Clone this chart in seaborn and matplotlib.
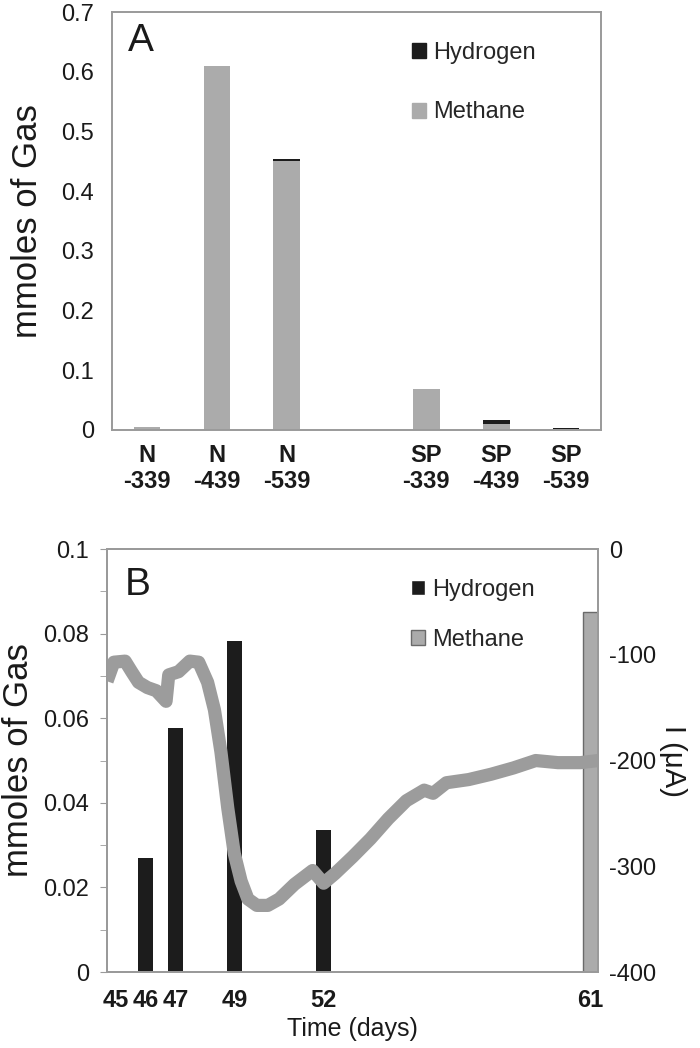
import pandas as pd
import matplotlib
matplotlib.use("Agg")
import matplotlib.pyplot as plt
import seaborn as sns
from matplotlib.patches import Patch
from matplotlib.ticker import FixedLocator

# ---- panel A: gas totals per condition ----
samples = ["N\n-339", "N\n-439", "N\n-539", "SP\n-339", "SP\n-439", "SP\n-539"]
methane_a = [0.005, 0.610, 0.450, 0.068, 0.010, 0.001]
hydrogen_a = [0.0, 0.0, 0.004, 0.0, 0.006, 0.002]
slot_order = samples[:3] + [" "] + samples[3:]

# ---- panel B: time course ----
h2_days = [46, 47, 49, 52]
h2_mmol = [0.027, 0.0577, 0.0783, 0.0335]
ch4_days = [61]
ch4_mmol = [0.085]
day_ticks = [45, 46, 47, 49, 52, 61]

cur_days = [44.70, 44.93, 45.31, 45.53, 45.76, 46.06, 46.36, 46.69, 46.78, 47.11,
            47.49, 47.79, 48.09, 48.32, 48.54, 48.77, 48.99, 49.22, 49.45, 49.75,
            50.12, 50.50, 51.02, 51.63, 52.00, 52.38, 52.98, 53.58, 54.18, 54.79,
            55.39, 55.69, 56.14, 56.89, 57.64, 58.40, 59.15, 59.90, 60.66, 61.25]
cur_uA = [-125, -107, -106, -116, -126, -131, -134, -144, -119, -116,
          -106, -107, -126, -152, -192, -245, -288, -314, -331, -337,
          -337, -331, -317, -304, -316, -307, -291, -274, -255, -238,
          -228, -231, -221, -218, -213, -207, -200, -202, -202, -200]

dfa = pd.DataFrame({"sample": samples, "methane": methane_a, "hydrogen": hydrogen_a})
dfa["total"] = dfa["methane"] + dfa["hydrogen"]

sns.set_style("white")
plt.rcParams["font.family"] = ["Liberation Sans", "DejaVu Sans"]
plt.rcParams["axes.unicode_minus"] = False

GRAY = "#ababab"
BLACK = "#1c1c1c"
FRAME = "#9a9a9a"
TXT = "#1a1a1a"

fig = plt.figure(figsize=(7, 10.48), dpi=100)
axA = fig.add_axes([0.160, 0.5897, 0.6986, 0.3988])
axB = fig.add_axes([0.1529, 0.0725, 0.7014, 0.4036])

# stacked bars: total in black, methane over it in gray
sns.barplot(data=dfa, x="sample", y="total", order=slot_order, color=BLACK,
            width=0.38, linewidth=0, saturation=1, ax=axA)
sns.barplot(data=dfa, x="sample", y="methane", order=slot_order, color=GRAY,
            width=0.38, linewidth=0, saturation=1, ax=axA)
axA.set_ylim(0, 0.7)
axA.set_xlim(-0.5, 6.5)
axA.set_yticks([0, 0.1, 0.2, 0.3, 0.4, 0.5, 0.6, 0.7])
axA.set_yticklabels(["0", "0.1", "0.2", "0.3", "0.4", "0.5", "0.6", "0.7"])
axA.yaxis.set_minor_locator(FixedLocator([0.05, 0.15, 0.25, 0.35, 0.45, 0.55, 0.65]))
axA.set_xticks(range(7))
axA.set_xticklabels(slot_order, fontweight="bold", fontsize=17, linespacing=1.15)
axA.xaxis.set_minor_locator(FixedLocator([0.5, 1.5, 2.5, 3.5, 4.5, 5.5]))
axA.tick_params(axis="x", which="major", length=0, pad=10, colors=TXT)
axA.tick_params(axis="x", which="minor", length=4, color=FRAME, direction="out")
axA.tick_params(axis="y", which="both", length=5, color=FRAME, direction="out",
                labelsize=17, labelcolor=TXT, pad=8)
axA.set_xlabel("")
axA.set_ylabel("mmoles of Gas", fontsize=25, color=TXT, labelpad=12)
axA.text(0.06, 0.93, "A", transform=axA.transAxes, fontsize=28, ha="center",
         va="center", color=TXT)
axA.legend(handles=[Patch(color=BLACK, label="Hydrogen"), Patch(color=GRAY, label="Methane")],
           loc="upper left", bbox_to_anchor=(0.57, 0.98), frameon=False, fontsize=17,
           handlelength=0.6, handleheight=0.6, handletextpad=0.3, labelspacing=1.6)

# panel B bars on left axis
sns.barplot(x=h2_days, y=h2_mmol, native_scale=True, color=BLACK, width=0.5,
            linewidth=0, saturation=1, ax=axB)
sns.barplot(x=ch4_days, y=ch4_mmol, native_scale=True, color=GRAY, width=0.5,
            edgecolor="#6a6a6a", linewidth=1.0, saturation=1, ax=axB)
axB.set_xlim(44.7, 61.25)
axB.set_ylim(0, 0.1)
axB.set_yticks([0, 0.02, 0.04, 0.06, 0.08, 0.1])
axB.set_yticklabels(["0", "0.02", "0.04", "0.06", "0.08", "0.1"])
axB.yaxis.set_minor_locator(FixedLocator([0.01, 0.03, 0.05, 0.07, 0.09]))
axB.set_xticks(list(range(45, 62)))
axB.set_xticklabels([str(d) if d in day_ticks else "" for d in range(45, 62)],
                    fontweight="bold", fontsize=17)
axB.tick_params(axis="x", length=4, color=FRAME, direction="out", pad=8, labelcolor=TXT)
axB.tick_params(axis="y", which="both", length=5, color=FRAME, direction="out",
                labelsize=17, labelcolor=TXT, pad=8)
axB.set_xlabel("Time (days)", fontsize=18, color=TXT, labelpad=4)
axB.set_ylabel("mmoles of Gas", fontsize=25, color=TXT, labelpad=6)
axB.text(0.063, 0.915, "B", transform=axB.transAxes, fontsize=28, ha="center",
         va="center", color=TXT)
axB.legend(handles=[Patch(facecolor=BLACK, label="Hydrogen"),
                    Patch(facecolor=GRAY, edgecolor="#6a6a6a", label="Methane")],
           loc="upper left", bbox_to_anchor=(0.575, 0.98), frameon=False, fontsize=17,
           handlelength=0.6, handleheight=0.6, handletextpad=0.3, labelspacing=1.2)

# current trace on secondary axis
axC = axB.twinx()
sns.lineplot(x=cur_days, y=cur_uA, color="#9c9c9c", linewidth=9.5, ax=axC,
             solid_capstyle="butt")
axC.set_ylim(-400, 0)
axC.set_yticks([0, -100, -200, -300, -400])
axC.tick_params(axis="y", length=0, labelsize=17, labelcolor=TXT, pad=8)
axC.set_ylabel("I (\u03bcA)", fontsize=21, color=TXT, rotation=270, labelpad=22)

for ax in (axA, axB, axC):
    for sp in ax.spines.values():
        sp.set_color(FRAME)
        sp.set_linewidth(1.4)

fig.savefig("out.png", dpi=100)
